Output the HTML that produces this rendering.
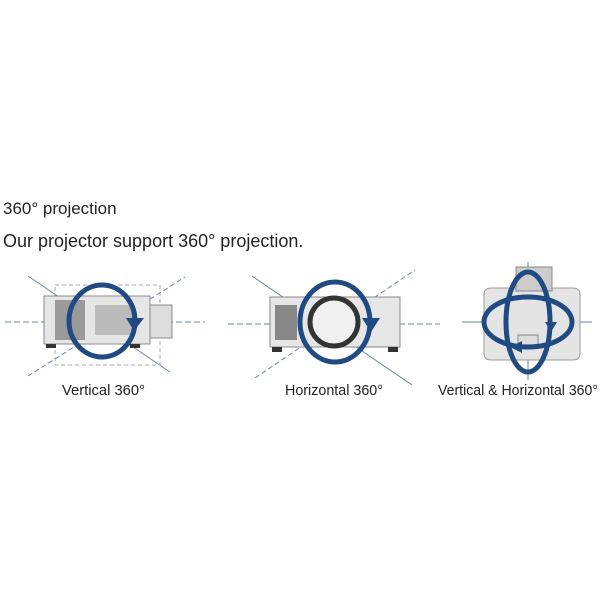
<!DOCTYPE html>
<html><head><meta charset="utf-8"><style>
html,body{margin:0;padding:0;background:#fff;width:600px;height:600px;overflow:hidden}
svg{display:block}
text{font-family:"Liberation Sans",sans-serif;fill:#222}
</style></head><body>
<svg width="600" height="600" viewBox="0 0 600 600">
<text x="3" y="214" font-size="17">360° projection</text>
<text x="3" y="247" font-size="18">Our projector support 360° projection.</text>

<!-- Figure 1 -->
<g stroke="#6a86a8" stroke-width="1" fill="none">
<line x1="5" y1="322" x2="205" y2="322" stroke-dasharray="6 3"/>
<line x1="28" y1="276" x2="170" y2="372"/>
<line x1="28" y1="376" x2="185" y2="277" stroke-dasharray="5 3"/>
</g>
<g stroke="#aaa" stroke-dasharray="4 3" fill="none"><rect x="55" y="285" width="105" height="80"/></g>
<rect x="44" y="296" width="106" height="48" fill="#e6e6e6" stroke="#888"/>
<rect x="55" y="300" width="30" height="40" fill="#9a9a9a"/>
<rect x="95" y="305" width="40" height="30" fill="#bbb"/>
<rect x="150" y="305" width="22" height="33" fill="#ddd" stroke="#888"/>
<rect x="46" y="344" width="10" height="4" fill="#333"/><rect x="130" y="344" width="10" height="4" fill="#333"/>
<ellipse cx="102" cy="321" rx="33" ry="36" fill="none" stroke="#1f4a82" stroke-width="5"/>
<polygon points="126,318 144,318 134,331" fill="#1f4a82"/>

<!-- Figure 2 -->
<g stroke="#6a86a8" stroke-width="1" fill="none">
<line x1="228" y1="324" x2="440" y2="324" stroke-dasharray="6 3"/>
<line x1="252" y1="276" x2="412" y2="385"/>
<line x1="255" y1="378" x2="415" y2="270" stroke-dasharray="5 3"/>
</g>
<rect x="270" y="297" width="130" height="50" fill="#e6e6e6" stroke="#888"/>
<rect x="275" y="305" width="22" height="35" fill="#888"/>
<rect x="272" y="347" width="10" height="5" fill="#333"/><rect x="388" y="347" width="10" height="5" fill="#333"/>
<circle cx="334" cy="322" r="24" fill="#f0f0f0" stroke="#333" stroke-width="5"/>
<ellipse cx="335" cy="322" rx="35" ry="40" fill="none" stroke="#1f4a82" stroke-width="5"/>
<polygon points="362,318 380,318 371,332" fill="#1f4a82"/>

<!-- Figure 3 -->
<g stroke="#6a86a8" stroke-width="1" fill="none">
<line x1="462" y1="322" x2="592" y2="322"/>
<line x1="528" y1="262" x2="528" y2="380"/>
</g>
<rect x="484" y="288" width="96" height="72" rx="6" fill="#e4e4e4" stroke="#999"/>
<rect x="516" y="267" width="36" height="24" fill="#ccc" stroke="#888"/>
<rect x="518" y="335" width="20" height="10" fill="#ddd" stroke="#888"/>
<ellipse cx="528" cy="322" rx="44" ry="25" fill="none" stroke="#1f4a82" stroke-width="5"/>
<ellipse cx="528" cy="322" rx="22" ry="50" fill="none" stroke="#1f4a82" stroke-width="5"/>
<polygon points="545,322 557,322 551,332" fill="#1f4a82"/>
<polygon points="510,347 522,341 522,353" fill="#1f4a82"/>

<text x="62" y="395" font-size="15" textLength="83" lengthAdjust="spacingAndGlyphs">Vertical 360°</text>
<text x="285" y="395" font-size="15" textLength="98" lengthAdjust="spacingAndGlyphs">Horizontal 360°</text>
<text x="438" y="395" font-size="15" textLength="160" lengthAdjust="spacingAndGlyphs">Vertical &amp; Horizontal 360°</text>
</svg>
</body></html>
